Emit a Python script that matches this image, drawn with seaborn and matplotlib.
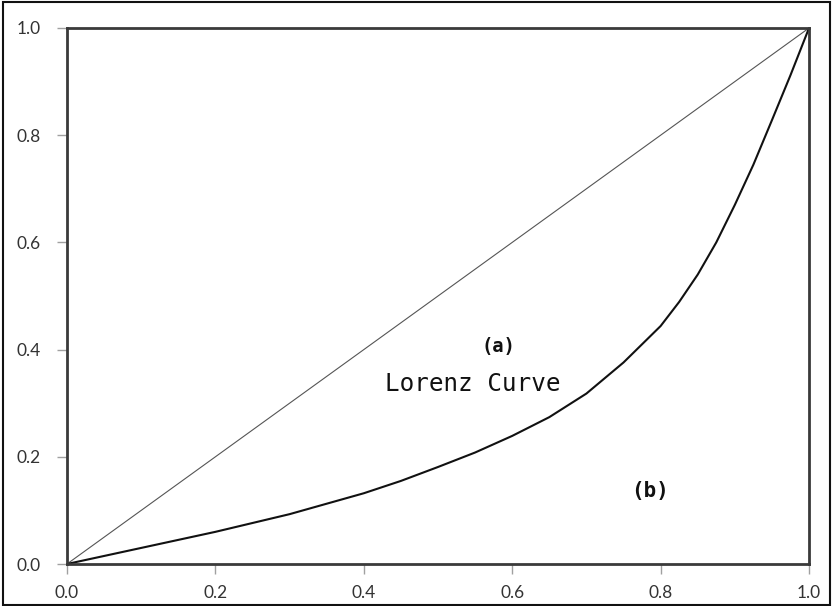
import matplotlib
matplotlib.use("Agg")
import matplotlib.pyplot as plt
import pandas as pd
import seaborn as sns

# Cumulative share of population vs. cumulative share of income
population_share = [0.0, 0.1, 0.2, 0.3, 0.4, 0.45, 0.5, 0.55, 0.6, 0.65, 0.7, 0.75,
                    0.8, 0.825, 0.85, 0.875, 0.9, 0.925, 0.95, 0.975, 1.0]
income_share = [0.0, 0.03, 0.06, 0.093, 0.132, 0.155, 0.181, 0.208, 0.239, 0.274, 0.318, 0.376,
                0.444, 0.489, 0.54, 0.6, 0.67, 0.745, 0.828, 0.912, 1.0]

# Line of perfect equality
equality_x = [0.0, 1.0]
equality_y = [0.0, 1.0]

tick_values = [0.0, 0.2, 0.4, 0.6, 0.8, 1.0]
tick_labels = ["0.0", "0.2", "0.4", "0.6", "0.8", "1.0"]

lorenz = pd.DataFrame({"x": population_share, "y": income_share})
equality = pd.DataFrame({"x": equality_x, "y": equality_y})

sns.set_style("white")
plt.rcParams["font.family"] = ["Lato", "DejaVu Sans"]

fig = plt.figure(figsize=(8.32, 6.06), dpi=100)
ax = fig.add_axes([0.0805, 0.0693, 0.8919, 0.8845])

sns.lineplot(data=equality, x="x", y="y", ax=ax, color="#555555", linewidth=0.8)
sns.lineplot(data=lorenz, x="x", y="y", ax=ax, color="#111111", linewidth=1.5)

ax.set_xlim(0, 1)
ax.set_ylim(0, 1)
ax.set_xticks(tick_values)
ax.set_xticklabels(tick_labels)
ax.set_yticks(tick_values)
ax.set_yticklabels(tick_labels)
ax.set_xlabel("")
ax.set_ylabel("")

for side in ["left", "right", "top", "bottom"]:
    ax.spines[side].set_visible(True)
    ax.spines[side].set_color("#3a3a3a")
    ax.spines[side].set_linewidth(2.0)

ax.tick_params(axis="both", which="major", direction="out", length=7, width=1,
               color="#a0a0a0", labelcolor="#333333", labelsize=12.5)
ax.tick_params(axis="x", pad=8)
ax.tick_params(axis="y", pad=12)
ax.xaxis.set_ticks_position("bottom")
ax.yaxis.set_ticks_position("left")

mono = ["DejaVu Sans Mono"]
ax.text(0.581, 0.406, "(a)", family=mono, fontsize=13.5, fontweight="bold",
        ha="center", va="center", color="#111111")
ax.text(0.547, 0.335, "Lorenz Curve", family=mono, fontsize=17.5,
        ha="center", va="center", color="#111111")
ax.text(0.786, 0.137, "(b)", family=mono, fontsize=15, fontweight="bold",
        ha="center", va="center", color="#111111")

# Outer frame around the whole figure
frame = plt.Rectangle((0.004, 0.002), 0.994, 0.994, transform=fig.transFigure,
                      fill=False, edgecolor="#111111", linewidth=1.5)
fig.patches.append(frame)

fig.savefig("out.png", dpi=100)
